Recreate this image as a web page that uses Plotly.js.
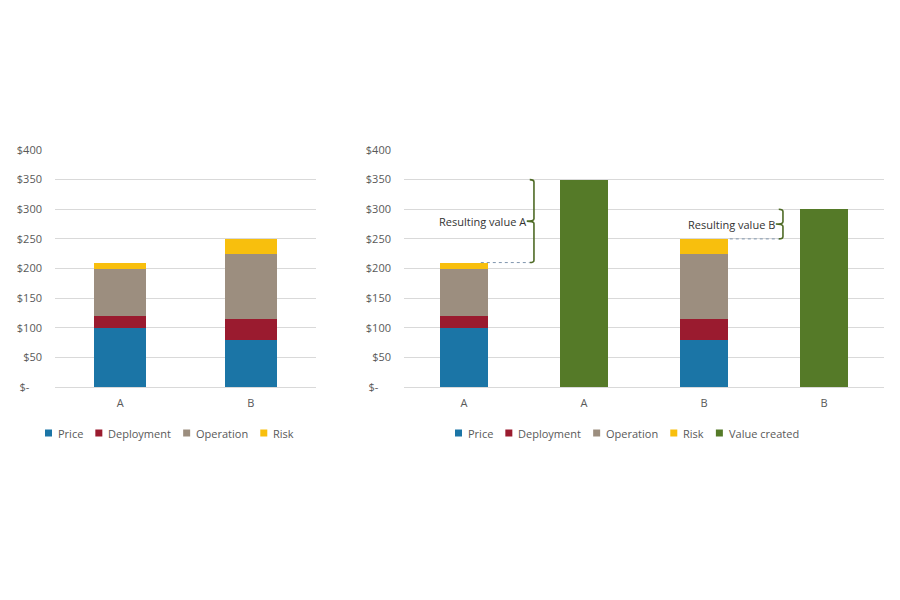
<!DOCTYPE html>
<html>
<head>
<meta charset="utf-8">
<script src="https://cdn.plot.ly/plotly-3.0.1.min.js"></script>
<style>html,body{margin:0;padding:0;background:#fff;}#chart{width:900px;height:600px;}</style>
</head>
<body>
<div id="chart"></div>
<script>
// ---- data ----
const categories = ['A', 'B'];
const price = [100, 80];
const deployment = [20, 35];
const operation = [80, 110];
const risk = [10, 25];
const valueCreated = [350, 300];
const yTickVals = [0, 50, 100, 150, 200, 250, 300, 350, 400];
const yTickText = ['$-\u2007\u2007', '$50', '$100', '$150', '$200', '$250', '$300', '$350', '$400'];
const resultLabels = ['Resulting value A', 'Resulting value B'];

// ---- styles ----
const colors = {
  price: '#1b75a6', deployment: '#9a1b2f', operation: '#9c8e7f',
  risk: '#f8bf0d', value: '#557a28'
};
const textColor = '#595959';
const fontFam = '"Open Sans", "Liberation Sans", sans-serif';
const legendFontSize = 11;

const seriesDefs = [
  ['Price', price, colors.price],
  ['Deployment', deployment, colors.deployment],
  ['Operation', operation, colors.operation],
  ['Risk', risk, colors.risk]
];

const traces = [];
// left chart
seriesDefs.forEach(([name, vals, col]) => {
  traces.push({
    type: 'bar', name: name, x: categories.map((c, i) => i), y: vals,
    marker: {color: col}, xaxis: 'x', yaxis: 'y', showlegend: false,
    hoverinfo: 'y+name'
  });
});
// right chart: stacks at even positions, value created at odd positions
const stackX = categories.map((c, i) => i * 2);
const valueX = categories.map((c, i) => i * 2 + 1);
seriesDefs.forEach(([name, vals, col]) => {
  traces.push({
    type: 'bar', name: name, x: stackX, y: vals,
    marker: {color: col}, xaxis: 'x2', yaxis: 'y2', showlegend: false,
    hoverinfo: 'y+name'
  });
});
traces.push({
  type: 'bar', name: 'Value created', x: valueX, y: valueCreated,
  marker: {color: colors.value}, xaxis: 'x2', yaxis: 'y2', showlegend: false,
  hoverinfo: 'y+name'
});

const totals = categories.map((c, i) => price[i] + deployment[i] + operation[i] + risk[i]);

const shapes = [];
const annotations = [];

// ---- brackets ----
const braceOffsets = [0.583, 0.658];   // x offset of brace from stack centre (category units)
const dashStart = [0.14, 0.215];
const braceColor = '#4f6b26';
categories.forEach((c, i) => {
  const x0 = stackX[i] + braceOffsets[i];
  const yTop = valueCreated[i], yBot = totals[i], yMid = (yTop + yBot) / 2;
  const dx = 0.035, dm = 0.06, r = 4;
  const path = `M ${x0 - dx},${yTop} Q ${x0},${yTop} ${x0},${yTop - r} L ${x0},${yMid + r} ` +
    `Q ${x0},${yMid} ${x0 - dm},${yMid} Q ${x0},${yMid} ${x0},${yMid - r} ` +
    `L ${x0},${yBot + r} Q ${x0},${yBot} ${x0 - dx},${yBot}`;
  shapes.push({type: 'path', xref: 'x2', yref: 'y2', path: path,
    line: {color: braceColor, width: 1.6}});
  shapes.push({type: 'line', xref: 'x2', yref: 'y2',
    x0: stackX[i] + dashStart[i], x1: x0 - dx, y0: yBot, y1: yBot,
    line: {color: '#7f95ad', width: 1, dash: '3px,3px'}});
  annotations.push({xref: 'x2', yref: 'y2', x: x0 - dm, y: yMid, xanchor: 'right', yanchor: 'middle',
    text: resultLabels[i], showarrow: false, borderpad: 0,
    font: {family: fontFam, size: 11, color: '#333333'}});
});

// ---- legends (laid out in pixels, measured text) ----
const W = 900, H = 600;
const ctx = document.createElement('canvas').getContext('2d');
ctx.font = legendFontSize + 'px "Open Sans"';
function addLegend(items, startX, cy) {
  let x = startX;
  const sz = 7, gap = 5, spacing = 13;
  items.forEach(([name, col]) => {
    shapes.push({type: 'rect', xref: 'paper', yref: 'paper', layer: 'above',
      x0: x / W, x1: (x + sz) / W, y0: 1 - (cy + sz / 2) / H, y1: 1 - (cy - sz / 2) / H,
      fillcolor: col, line: {width: 0}});
    const tx = x + sz + gap;
    annotations.push({xref: 'paper', yref: 'paper', x: tx / W, y: 1 - cy / H,
      xanchor: 'left', yanchor: 'middle', text: name, showarrow: false, borderpad: 0,
      font: {family: fontFam, size: legendFontSize, color: textColor}});
    x = tx + ctx.measureText(name).width + spacing;
  });
}
const legendItems = seriesDefs.map(d => [d[0], d[2]]);
addLegend(legendItems, 45, 433);
addLegend(legendItems.concat([['Value created', colors.value]]), 455, 433);

const yaxisBase = {
  range: [0, 400], tickvals: yTickVals, ticktext: yTickText,
  showgrid: true, gridcolor: '#d9d9d9', gridwidth: 1,
  zeroline: true, zerolinecolor: '#d9d9d9', zerolinewidth: 1,
  showline: false, ticks: '', ticklen: 0, ticklabelstandoff: 12,
  tickfont: {family: fontFam, size: 11, color: textColor},
  fixedrange: true
};
const xaxisBase = {
  showgrid: false, zeroline: false, showline: false, ticks: '', ticklen: 0,
  ticklabelstandoff: 8,
  tickfont: {family: fontFam, size: 11, color: textColor}, fixedrange: true
};

const layout = {
  width: 900, height: 600,
  margin: {l: 0, r: 0, t: 0, b: 0},
  paper_bgcolor: '#ffffff', plot_bgcolor: '#ffffff',
  font: {family: fontFam, color: textColor, size: 11},
  barmode: 'stack', bargap: 0.6,
  showlegend: false,
  xaxis: Object.assign({
    domain: [55 / 900, 316 / 900], anchor: 'y', range: [-0.5, categories.length - 0.5],
    tickvals: categories.map((c, i) => i), ticktext: categories
  }, xaxisBase),
  yaxis: Object.assign({domain: [1 - 387 / 600, 1 - 150 / 600], anchor: 'x'}, yaxisBase),
  xaxis2: Object.assign({
    domain: [404 / 900, 884 / 900], anchor: 'y2', range: [-0.5, categories.length * 2 - 0.5],
    tickvals: stackX.concat(valueX).sort((a, b) => a - b),
    ticktext: categories.flatMap(c => [c, c])
  }, xaxisBase),
  yaxis2: Object.assign({domain: [1 - 387 / 600, 1 - 150 / 600], anchor: 'x2'}, yaxisBase),
  shapes: shapes,
  annotations: annotations
};

Plotly.newPlot('chart', traces, layout, {displayModeBar: false, staticPlot: true});
</script>
</body>
</html>
